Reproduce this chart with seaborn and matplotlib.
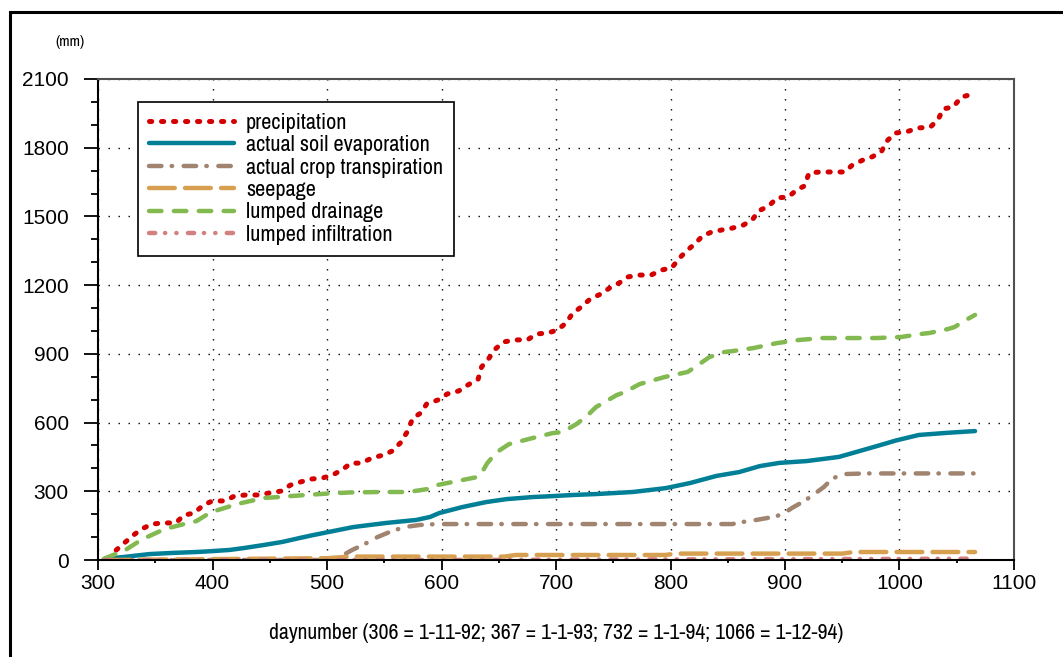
import matplotlib
matplotlib.use("Agg")
import matplotlib.pyplot as plt
import seaborn as sns
from matplotlib.ticker import MultipleLocator
from matplotlib.patches import Rectangle

# cumulative water balance terms (mm) against day number
precip_day = [310, 316, 324, 331, 338, 347, 357, 368, 375, 384,
              392, 400, 411, 419, 429, 440, 450, 460, 468, 477,
              487, 496, 505, 514, 521, 530, 539, 549, 557, 564,
              570, 575, 582, 587, 597, 605, 615, 623, 632, 635,
              641, 647, 654, 665, 675, 683, 693, 701, 709, 714,
              722, 730, 739, 747, 755, 763, 772, 783, 792, 801,
              808, 814, 822, 828, 836, 845, 854, 864, 872, 877,
              886, 893, 903, 910, 917, 921, 931, 940, 952, 959,
              968, 976, 984, 989, 996, 1006, 1016, 1027, 1034, 1038,
              1047, 1054, 1064, 1066]
precip_val = [0, 44, 79, 109, 135, 157, 162, 162, 196, 205,
              240, 258, 258, 279, 284, 284, 293, 301, 327, 341,
              354, 358, 371, 397, 423, 423, 445, 458, 476, 511,
              559, 620, 642, 681, 699, 725, 738, 764, 790, 843,
              878, 921, 952, 961, 961, 987, 991, 1004, 1035, 1074,
              1105, 1140, 1161, 1188, 1209, 1236, 1244, 1244, 1266, 1275,
              1319, 1349, 1384, 1415, 1432, 1441, 1449, 1463, 1489, 1524,
              1546, 1581, 1585, 1615, 1633, 1690, 1694, 1694, 1694, 1725,
              1746, 1760, 1781, 1829, 1864, 1869, 1886, 1890, 1925, 1969,
              1978, 2021, 2034, 2040]

evap_day = [306, 322, 345, 365, 386, 400, 415, 427, 444, 461,
            476, 488, 501, 523, 552, 578, 590, 598, 618, 639,
            657, 680, 697, 715, 735, 753, 767, 796, 817, 840,
            860, 878, 895, 919, 947, 959, 980, 997, 1017, 1041,
            1066]
evap_val = [5, 13, 26, 31, 35, 39, 44, 52, 65, 79,
            96, 109, 122, 144, 162, 175, 188, 205, 231, 253,
            266, 275, 279, 284, 288, 293, 297, 314, 336, 367,
            384, 410, 424, 432, 450, 467, 497, 522, 546, 555,
            563]

transp_day = [306, 505, 511, 522, 533, 544, 557, 568, 581, 596,
              650, 750, 854, 863, 875, 884, 893, 901, 906, 917,
              927, 934, 941, 950, 971, 1066]
transp_val = [0, 0, 13, 44, 70, 100, 127, 144, 153, 157,
              157, 157, 157, 166, 175, 183, 192, 210, 227, 258,
              293, 319, 354, 375, 378, 378]

seep_day = [306, 400, 500, 520, 655, 665, 795, 805, 950, 960, 1066]
seep_val = [0, 4, 8, 15, 15, 22, 22, 28, 28, 35, 35]

drain_day = [305, 324, 339, 345, 358, 365, 379, 386, 396, 402,
             413, 421, 437, 444, 459, 468, 482, 500, 520, 548,
             571, 588, 596, 610, 631, 635, 640, 646, 651, 659,
             680, 697, 706, 718, 727, 735, 753, 760, 773, 795,
             815, 824, 834, 847, 854, 872, 893, 913, 933, 954,
             980, 1002, 1019, 1026, 1042, 1048, 1058, 1066]
drain_val = [5, 44, 92, 105, 135, 144, 162, 170, 201, 214,
             231, 244, 262, 271, 275, 279, 284, 290, 295, 297,
             297, 310, 327, 341, 362, 380, 423, 458, 480, 506,
             533, 554, 559, 594, 629, 668, 720, 733, 768, 799,
             821, 851, 886, 908, 912, 925, 947, 961, 969, 969,
             969, 974, 987, 991, 1008, 1017, 1048, 1070]

infil_day = [306, 600, 800, 1000, 1066]
infil_val = [0, 0, 3, 5, 6]

labels = ["precipitation", "actual soil evaporation", "actual crop transpiration",
          "seepage", "lumped drainage", "lumped infiltration"]

sns.set_theme(style="white")
plt.rcParams["font.family"] = ["Archivo Narrow", "Liberation Sans", "DejaVu Sans"]
tick_font = ["Liberation Sans", "DejaVu Sans"]

fig = plt.figure(figsize=(10.63, 6.57), dpi=100)
ax = fig.add_axes([0.0922, 0.1476, 0.8617, 0.7322])

styles = [
    (precip_day, precip_val, "#d40000", (0, (0.45, 1.95)), 3.6),
    (evap_day, evap_val, "#007f96", "-", 3.2),
    (transp_day, transp_val, "#a08470", (0, (2.8, 2.3, 0.1, 2.6)), 3.2),
    (seep_day, seep_val, "#d7a050", (0, (5.8, 2.3)), 3.2),
    (drain_day, drain_val, "#82b950", (0, (2.8, 2.8)), 3.2),
    (infil_day, infil_val, "#d28080", (0, (1.4, 2.2, 0.05, 2.5, 0.05, 2.55)), 3.2),
]

for lab, (xs, ys, col, ls, lw) in zip(labels, styles):
    sns.lineplot(x=xs, y=ys, ax=ax, color=col, linestyle=ls, linewidth=lw,
                 label=lab, estimator=None, sort=False,
                 dash_capstyle="round", solid_capstyle="round")

ax.set_xlim(300, 1100)
ax.set_ylim(0, 2100)
ax.xaxis.set_major_locator(MultipleLocator(100))
ax.xaxis.set_minor_locator(MultipleLocator(50))
ax.yaxis.set_major_locator(MultipleLocator(300))
ax.yaxis.set_minor_locator(MultipleLocator(100))

ax.grid(True, which="major", color="black", linestyle=(0, (1, 6.2)), linewidth=1.0)
ax.set_axisbelow(True)

ax.tick_params(which="both", bottom=True, left=True, direction="out", colors="black", width=1.3)
ax.tick_params(axis="x", which="major", length=7, labelsize=15, pad=3)
ax.tick_params(axis="x", which="minor", length=2.5)
ax.tick_params(axis="y", which="major", length=10, labelsize=15, pad=11)
ax.tick_params(axis="y", which="minor", length=5)
for lbl in ax.get_xticklabels() + ax.get_yticklabels():
    lbl.set_fontfamily(tick_font)

for side in ["left", "bottom"]:
    ax.spines[side].set_color("black")
    ax.spines[side].set_linewidth(1.5)
for side in ["top", "right"]:
    ax.spines[side].set_color("#505050")
    ax.spines[side].set_linewidth(1.5)

ax.set_xlabel("daynumber (306 = 1-11-92; 367 = 1-1-93; 732 = 1-1-94; 1066 = 1-12-94)",
              fontsize=15.7, labelpad=22, color="black")
ax.set_ylabel("")

leg = ax.legend(loc="upper left", bbox_to_anchor=(0.0437, 0.953), borderaxespad=0,
                fontsize=16, frameon=True, fancybox=False, framealpha=1,
                edgecolor="black", handlelength=3.8, handletextpad=0.55,
                labelspacing=0.11, borderpad=0.5)
leg.get_frame().set_linewidth(1.2)
for t in leg.get_texts():
    t.set_color("black")

fig.text(0.0659, 0.936, "(mm)", fontsize=11, ha="center", va="center", color="black")

fig.add_artist(Rectangle((10 / 1063, -0.1), 1.2, (657 - 12) / 657 + 0.1,
                         transform=fig.transFigure, fill=False,
                         edgecolor="black", linewidth=2.2))

fig.savefig("out.png", dpi=100)
